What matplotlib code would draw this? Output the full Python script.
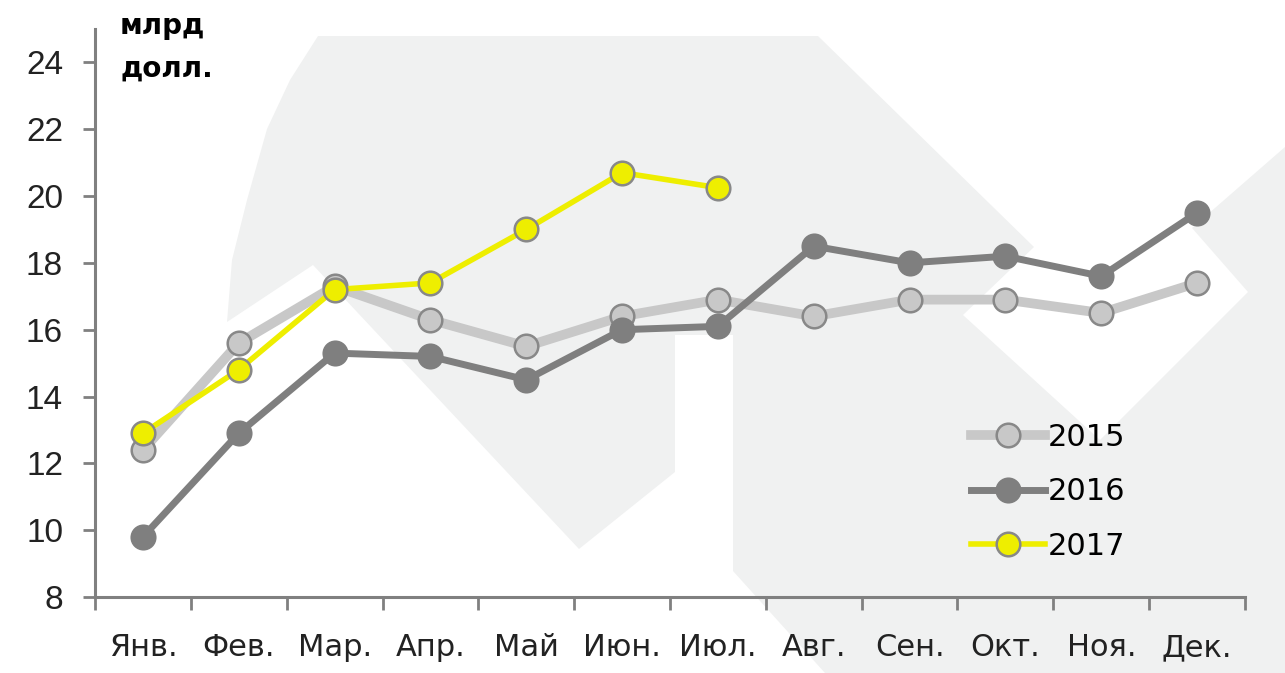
import matplotlib
matplotlib.use("Agg")
import matplotlib.pyplot as plt
from matplotlib.patches import Polygon
import numpy as np

months = ["Янв.", "Фев.", "Мар.", "Апр.", "Май", "Июн.", "Июл.",
          "Авг.", "Сен.", "Окт.", "Ноя.", "Дек."]
y2015 = [12.4, 15.6, 17.3, 16.3, 15.5, 16.4, 16.9, 16.4, 16.9, 16.9, 16.5, 17.4]
y2016 = [9.8, 12.9, 15.3, 15.2, 14.5, 16.0, 16.1, 18.5, 18.0, 18.2, 17.6, 19.5]
y2017 = [12.9, 14.8, 17.2, 17.4, 19.0, 20.7, 20.25]
yticks = [8, 10, 12, 14, 16, 18, 20, 22, 24]

W, H = 1285, 673
fig = plt.figure(figsize=(W / 100, H / 100), dpi=100)

# light gray logo watermark behind the chart (pixel outline, y down)
mark = [(318, 36), (818, 36), (1034, 247), (963, 315), (1100, 440),
        (1248, 292), (1192, 228), (1285, 147), (1285, 673), (825, 673),
        (733, 571), (733, 335), (675, 335), (675, 472), (579, 549),
        (313, 265), (227, 322), (232, 260), (247, 200), (267, 129),
        (290, 80)]
fig.patches.append(Polygon([(x / W, 1 - y / H) for x, y in mark], closed=True,
                           transform=fig.transFigure, facecolor="#f0f1f1",
                           edgecolor="none", zorder=-5))

ax = fig.add_axes([95 / W, 1 - 597 / H, 1150 / W, 568 / H])
ax.patch.set_alpha(0)

x = np.arange(len(months))
ax.plot(x, y2015, color="#c8c8c8", lw=7, marker="o", ms=17,
        mfc="#c8c8c8", mec="#888888", mew=1.8, label="2015", zorder=3)
ax.plot(x, y2016, color="#7f7f7f", lw=5, marker="o", ms=17,
        mfc="#7f7f7f", mec="#7f7f7f", mew=1.8, label="2016", zorder=4)
ax.plot(x[:len(y2017)], y2017, color="#eeee00", lw=4, marker="o", ms=17,
        mfc="#eeee00", mec="#888888", mew=1.8, label="2017", zorder=5)

ax.set_xlim(-0.5, len(months) - 0.5)
ax.set_ylim(8, 25)
ax.set_yticks(yticks)
ax.set_yticklabels([str(v) for v in yticks], family="Liberation Sans", fontsize=24)
ax.set_xticks(x)
ax.set_xticklabels(months, family="DejaVu Sans", fontsize=22)
ax.set_xticks(np.arange(len(months) + 1) - 0.5, minor=True)
ax.tick_params(axis="x", which="major", length=0, pad=26, colors="#222222")
ax.tick_params(axis="x", which="minor", length=9, width=2, color="#808080")
ax.tick_params(axis="y", length=9, width=2, color="#808080", pad=14,
               labelcolor="#222222")

for s in ["top", "right"]:
    ax.spines[s].set_visible(False)
for s in ["left", "bottom"]:
    ax.spines[s].set_color("#808080")
    ax.spines[s].set_linewidth(2.2)

leg = ax.legend(loc="center left", bbox_to_anchor=(0.762, 0.185), frameon=False,
                prop={"family": "DejaVu Sans", "size": 22}, handlelength=2.4,
                handletextpad=0.1, labelspacing=0.83, borderpad=0,
                borderaxespad=0)

fig.text(120 / W, 1 - 12 / H, "млрд\nдолл.", ha="left", va="top",
         fontsize=20, fontweight="bold", family="DejaVu Sans",
         linespacing=1.65)

fig.savefig("out.png", dpi=100)
